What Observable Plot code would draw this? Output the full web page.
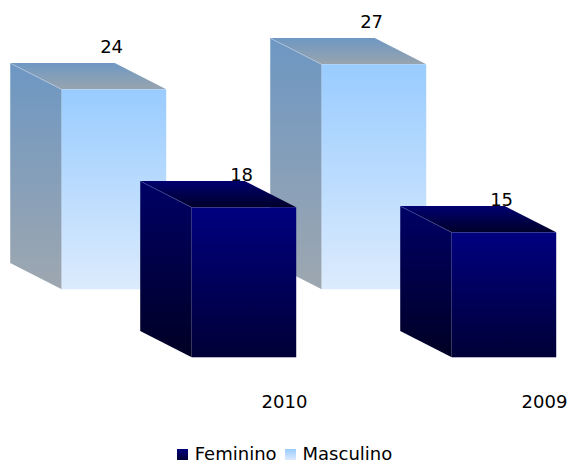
<!DOCTYPE html>
<html>
<head>
<meta charset="utf-8">
<script src="https://cdn.jsdelivr.net/npm/d3@7"></script>
<script src="https://cdn.jsdelivr.net/npm/@observablehq/plot@0.6"></script>
<style>
  html, body { margin: 0; padding: 0; background: #fff; overflow: hidden; }
  body { width: 569px; font-family: "DejaVu Sans", Verdana, sans-serif; }
  #chart svg { display: block; }
  #legend { display: flex; justify-content: center; align-items: center; height: 20px; line-height: 20px; font-size: 18px; color: #000; }
  #legend .item { display: flex; align-items: center; margin: 0 4px; }
  #legend .sw { width: 11px; height: 11px; margin-right: 7px; }
</style>
</head>
<body>
<div id="chart"></div>
<div id="legend"></div>
<script>
// ---- data ----
const categories = ["2010", "2009"];
const masculino = [24, 27];
const feminino = [18, 15];
const legendLabels = ["Feminino", "Masculino"];

// ---- layout (in scale units) ----
const W = 0.402;   // bar width (x units = one category slot)
const DX = 0.198;  // depth offset in x
const DY = 3.16;   // depth offset in y (value units)
const SX = 0.5;    // back row x shift
const SY = 8.16;   // back row y shift
const LABEL_UP = {back: 5.1, front: 3.95};

function makeBars(values, back) {
  return values.map((v, i) => ({
    id: (back ? "m" : "f") + i,
    cat: categories[i],
    value: v,
    xf: i - (back ? SX : 0),
    base: back ? SY : 0,
    up: back ? LABEL_UP.back : LABEL_UP.front
  }));
}
const backBars = makeBars(masculino, true);
const frontBars = makeBars(feminino, false);

const sidePts = bars => bars.flatMap(b => [
  {id: b.id, x: b.xf - DX, y1: b.base + DY, y2: b.base + b.value + DY},
  {id: b.id, x: b.xf, y1: b.base, y2: b.base + b.value}
]);
const topPts = bars => bars.flatMap(b => [
  {id: b.id, y: b.base + b.value + DY, x1: b.xf - DX, x2: b.xf - DX + W},
  {id: b.id, y: b.base + b.value, x1: b.xf, x2: b.xf + W}
]);

function grad(id, c0, c1) {
  return `<linearGradient id="${id}" x1="0" y1="0" x2="0" y2="1"><stop offset="0" stop-color="${c0}"/><stop offset="1" stop-color="${c1}"/></linearGradient>`;
}
const defs = () => {
  const g = d3.create("svg:defs");
  g.html(
    grad("mFront", "#99ccff", "#dcebfd") +
    grad("mSide", "#6d97c3", "#9ea7b0") +
    grad("mTop", "#6e98c3", "#98a4ae") +
    grad("fFront", "#000080", "#000036") +
    grad("fSide", "#000066", "#000024") +
    grad("fTop", "#000070", "#00002a")
  );
  return g.node();
};

function barMarks(bars, key) {
  return [
    Plot.areaY(sidePts(bars), {x: "x", y1: "y1", y2: "y2", z: "id", fill: `url(#${key}Side)`}),
    Plot.areaX(topPts(bars), {y: "y", x1: "x1", x2: "x2", z: "id", fill: `url(#${key}Top)`}),
    Plot.link(bars, {
      x1: d => d.xf - DX, y1: d => d.base + d.value + DY,
      x2: d => d.xf, y2: d => d.base + d.value,
      stroke: key === "m" ? "#c6d8ee" : "#4b5aa0", strokeWidth: 0.6, strokeOpacity: 0.8
    }),
    Plot.rect(bars, {x1: "xf", x2: d => d.xf + W, y1: "base", y2: d => d.base + d.value, fill: `url(#${key}Front)`})
  ];
}

const chart = Plot.plot({
  width: 569,
  height: 444,
  margin: 0,
  style: {fontFamily: "DejaVu Sans, Verdana, sans-serif", fontSize: "18px", overflow: "visible", background: "#fff"},
  x: {type: "linear", domain: [0, 1], range: [191.7, 451.7], axis: null},
  y: {type: "linear", domain: [0, 30], range: [357.3, 107.3], axis: null},
  marks: [
    defs,
    ...barMarks(backBars, "m"),
    ...barMarks(frontBars, "f"),
    Plot.text([...backBars, ...frontBars], {
      x: d => d.xf + 0.19, y: d => d.base + d.value + d.up,
      text: d => String(d.value), fill: "#000", fontSize: 18
    }),
    Plot.text(categories, {
      x: (d, i) => i + 0.355, y: () => -5.33,
      text: d => d, fill: "#000", fontSize: 18
    })
  ]
});
document.getElementById("chart").appendChild(chart);

// ---- legend ----
const swatch = {
  Feminino: "linear-gradient(#000080, #000036)",
  Masculino: "linear-gradient(#99ccff, #dcebfd)"
};
const legend = d3.select("#legend");
legendLabels.forEach(l => {
  const it = legend.append("div").attr("class", "item");
  it.append("div").attr("class", "sw").style("background", swatch[l]);
  it.append("span").text(l);
});
</script>
</body>
</html>
